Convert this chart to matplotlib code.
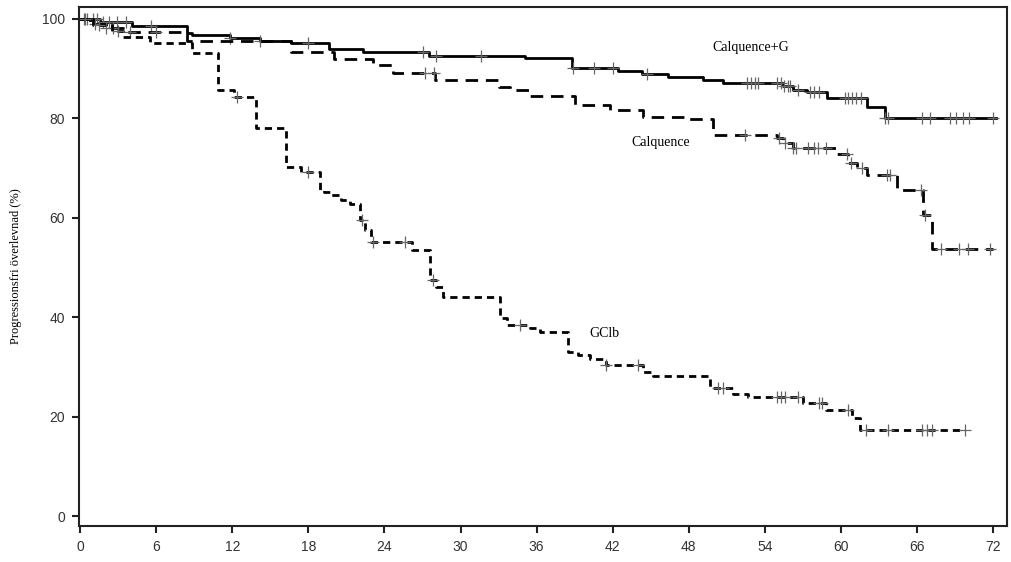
import numpy as np
import matplotlib
matplotlib.use("Agg")
import matplotlib.pyplot as plt

# ---- data (months, % progression-free) ----
cg_times = [0, 1.6, 4.1, 8.4, 8.8, 11.8, 14.2, 16.6, 19.6, 22.3, 27.5, 35.1, 38.8, 42.4, 44.3,
            46.4, 49.1, 50.7, 55.4, 56.2, 57.3, 58.9, 62.1, 63.5, 72.2]
cg_values = [100, 99.4, 98.6, 97.1, 96.8, 96.1, 95.6, 95.1, 93.9, 93.3, 92.6, 92.1, 90.2, 89.6, 88.9,
             88.4, 87.7, 87.1, 86.5, 85.8, 85.4, 84.0, 82.2, 80.0, 80.0]
cg_censor = [0.5, 1.0, 1.3, 1.8, 2.3, 2.9, 3.6, 5.6, 11.8, 14.2, 18.0, 27.0, 28.1, 31.6, 38.9,
             40.5, 42.0, 44.7, 52.6, 52.9, 53.2, 53.5, 55.0, 55.3, 55.5, 55.8, 56.0, 56.6, 57.6,
             57.9, 58.3, 60.3, 60.6, 60.9, 61.2, 61.6, 63.5, 63.7, 66.4, 67.0, 68.6, 69.1, 69.6,
             70.1, 72.0]

c_times = [0, 0.8, 2.0, 3.5, 8.4, 16.6, 20.0, 23.1, 24.7, 28.0, 33.0, 33.9, 35.5, 39.0, 41.8,
           44.4, 47.6, 49.9, 55.0, 55.4, 56.2, 59.7, 60.6, 61.3, 62.1, 64.4, 66.5, 67.2, 72.0]
c_values = [100, 99.0, 98.2, 97.3, 95.6, 93.4, 91.9, 90.7, 89.1, 87.7, 86.3, 85.8, 84.5, 82.7, 81.7,
            80.3, 79.8, 76.7, 76.1, 75.0, 74.0, 72.8, 71.0, 70.0, 68.6, 65.6, 60.6, 53.7, 53.7]
c_censor = [0.3, 1.2, 2.0, 2.6, 3.9, 6.0, 27.2, 27.9, 52.4, 55.1, 55.6, 56.2, 56.5, 57.4, 57.9,
            58.2, 58.8, 60.5, 60.8, 61.7, 63.6, 63.9, 66.3, 66.6, 67.9, 69.3, 70.0, 71.8]

g_times = [0, 1.0, 2.5, 3.4, 5.5, 8.8, 10.9, 12.1, 13.9, 16.2, 17.4, 18.9, 19.2, 19.8, 20.6, 21.3,
           22.1, 22.5, 22.9, 26.2, 27.6, 28.1, 28.6, 33.1, 33.7, 35.5, 36.3, 38.5, 39.3, 40.2,
           41.5, 44.4, 45.2, 49.7, 51.5, 52.7, 57.0, 58.8, 60.9, 61.5, 69.8]
g_values = [100, 98.8, 97.5, 96.4, 95.1, 93.1, 85.7, 84.4, 78.0, 70.3, 69.3, 65.6, 65.2, 64.6, 63.6,
            62.8, 59.6, 57.5, 55.2, 53.5, 47.5, 46.1, 44.1, 39.8, 38.4, 37.8, 37.0, 33.1, 32.4,
            31.5, 30.4, 29.0, 28.2, 25.7, 24.5, 23.9, 22.7, 21.3, 19.7, 17.3, 17.3]
g_censor = [0.4, 1.5, 3.0, 12.4, 18.0, 22.2, 23.1, 25.6, 27.8, 34.7, 41.5, 44.0, 50.3, 50.7, 55.0,
            55.3, 55.6, 56.6, 58.3, 58.5, 60.6, 62.0, 63.7, 66.4, 66.8, 67.2, 69.8]

x_ticks = [0, 6, 12, 18, 24, 30, 36, 42, 48, 54, 60, 66, 72]
y_ticks = [0, 20, 40, 60, 80, 100]
y_label = "Progressionsfri överlevnad (%)"
labels = ["Calquence+G", "Calquence", "GClb"]
label_pos = [(49.9, 94.2), (43.5, 75.1), (40.2, 36.8)]

serif = ["Liberation Serif", "DejaVu Serif"]
narrow = ["Liberation Sans Narrow", "Liberation Sans", "DejaVu Sans"]


def step_lookup(times, values, t):
    idx = np.searchsorted(np.asarray(times), t, side="right") - 1
    return np.asarray(values)[np.clip(idx, 0, len(values) - 1)]


fig = plt.figure(figsize=(10.12, 5.62), dpi=100)
ax = fig.add_axes([0.078, 0.064, 0.917, 0.9235])

series = [
    (cg_times, cg_values, cg_censor, dict(linestyle="-")),
    (c_times, c_values, c_censor, dict(linestyle=(0, (4.5, 2.8)))),
    (g_times, g_values, g_censor, dict(linestyle=(0, (2.6, 1.8)))),
]
for times, values, cens, style in series:
    ax.plot(times, values, drawstyle="steps-post", color="black", lw=2.0, **style)
    ax.plot(cens, step_lookup(times, values, cens), linestyle="none", marker="+",
            markersize=8, markeredgewidth=0.9, color="#666666")

for text, (x, y) in zip(labels, label_pos):
    ax.text(x, y, text, fontsize=10, family=serif, va="center", ha="left")

ax.set_xlim(-0.1, 73.1)
ax.set_ylim(-2.0, 102.4)
ax.set_xticks(x_ticks)
ax.set_yticks(y_ticks)
ax.set_xticklabels([str(v) for v in x_ticks], family=narrow, fontsize=10, color="#333333")
ax.set_yticklabels([str(v) for v in y_ticks], family=narrow, fontsize=10, color="#333333")
ax.tick_params(direction="out", length=5, width=1.5, color="#222222", pad=5)
for s in ax.spines.values():
    s.set_linewidth(1.5)
    s.set_color("#222222")
ax.set_ylabel(y_label, family=serif, fontsize=9, labelpad=14)

fig.savefig("out.png", dpi=100)
